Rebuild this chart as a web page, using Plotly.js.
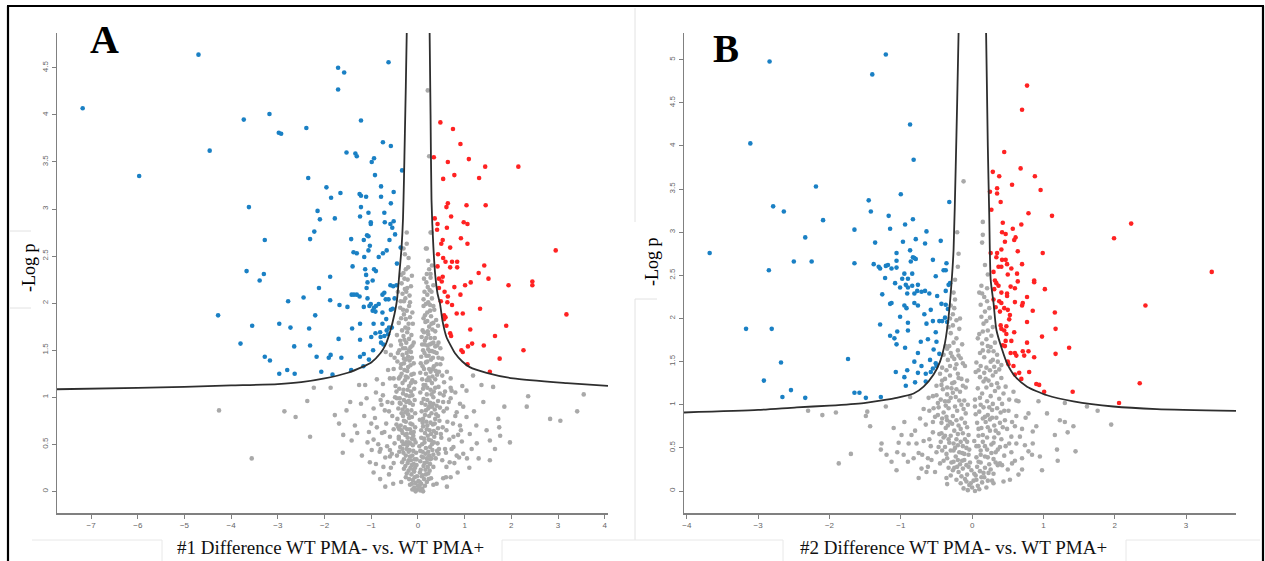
<!DOCTYPE html>
<html><head><meta charset="utf-8">
<script src="https://cdn.plot.ly/plotly-3.0.1.min.js"></script>
<style>html,body{margin:0;padding:0;background:#fff;}#chart{width:1265px;height:561px;}</style>
</head><body><div id="chart"></div>
<script>
// ---------- Panel A data ----------
const curveA_left = [[-7.73,1.085],[-6,1.10],[-5,1.11],[-4,1.125],[-3,1.14],[-2.5,1.16],[-2,1.2],[-1.5,1.26],[-1.2,1.32],[-1,1.37],[-0.8,1.47],[-0.7,1.55],[-0.6,1.69],[-0.5,1.89],[-0.45,2.03],[-0.4,2.3],[-0.35,2.6],[-0.32,2.9],[-0.3,3.3],[-0.28,3.8],[-0.26,4.3],[-0.24,4.87]];
const curveA_right = [[0.25,4.87],[0.27,4.0],[0.29,3.1],[0.33,2.6],[0.37,2.3],[0.42,2.1],[0.47,2.0],[0.53,1.8],[0.61,1.64],[0.7,1.55],[0.79,1.47],[0.95,1.38],[1.11,1.32],[1.47,1.26],[2.04,1.2],[3.19,1.15],[4.07,1.12]];
const blueA = [[-0.63,4.56],[-1.71,4.50],[-1.58,4.45],[-1.71,4.27],[-3.18,4.01],[-3.73,3.95],[-1.22,3.94],[-2.98,3.81],[-2.93,3.80],[-2.39,3.86],[-0.75,3.71],[-0.58,3.67],[-1.53,3.60],[-1.34,3.59],[-1.31,3.56],[-0.94,3.54],[-0.99,3.50],[-0.34,3.41],[-0.92,3.36],[-2.35,3.33],[-1.96,3.23],[-0.79,3.24],[-1.66,3.17],[-1.86,3.12],[-1.25,3.16],[-1.22,3.14],[-1.11,3.13],[-0.79,3.13],[-0.52,3.18],[-3.62,3.02],[-1.22,3.02],[-0.58,3.06],[-2.15,2.98],[-1.06,2.96],[-0.72,2.96],[-2.10,2.89],[-1.78,2.90],[-1.24,2.92],[-1.01,2.86],[-1.01,2.84],[-0.71,2.86],[-0.59,2.84],[-0.52,2.87],[-0.55,2.80],[-2.22,2.76],[-2.31,2.68],[-0.49,2.73],[-3.28,2.67],[-1.43,2.68],[-1.16,2.67],[-1.09,2.72],[-1.06,2.71],[-0.61,2.67],[-1.03,2.61],[-0.37,2.59],[-1.38,2.54],[-1.31,2.53],[-1.06,2.56],[-0.75,2.53],[-0.67,2.56],[-1.15,2.49],[-0.84,2.49],[-0.45,2.42],[-1.40,2.39],[-1.13,2.36],[-0.94,2.36],[-0.90,2.34],[-3.67,2.34],[-3.30,2.31],[-3.39,2.24],[-1.11,2.30],[-0.97,2.24],[-1.88,2.28],[-1.08,2.22],[-1.10,2.16],[-2.12,2.16],[-0.59,2.19],[-0.53,2.18],[-0.46,2.19],[-1.42,2.09],[-1.37,2.09],[-1.31,2.09],[-1.25,2.07],[-1.08,2.05],[-0.76,2.09],[-0.72,2.11],[-0.69,2.04],[-0.63,2.04],[-0.50,2.05],[-2.45,2.06],[-2.78,2.02],[-1.88,2.03],[-1.68,1.98],[-1.51,1.96],[-1.16,1.96],[-1.04,1.97],[-1.01,1.99],[-0.94,1.95],[-0.90,1.97],[-0.84,1.99],[-0.97,1.92],[-0.91,1.91],[-0.76,1.90],[-0.58,1.93],[-0.54,1.94],[-0.68,1.83],[-2.20,1.87],[-3.55,1.76],[-2.97,1.78],[-2.73,1.74],[-2.33,1.73],[-1.41,1.73],[-1.24,1.78],[-0.95,1.78],[-0.76,1.78],[-0.62,1.74],[-0.91,1.68],[-0.81,1.69],[-0.67,1.71],[-0.56,1.74],[-1.00,1.64],[-0.80,1.64],[-0.72,1.65],[-0.64,1.67],[-3.80,1.57],[-1.70,1.62],[-1.24,1.61],[-2.31,1.55],[-0.79,1.58],[-0.74,1.56],[-2.65,1.54],[-0.96,1.50],[-3.28,1.43],[-3.17,1.39],[-2.17,1.43],[-1.91,1.42],[-1.87,1.45],[-1.64,1.42],[-1.24,1.43],[-1.16,1.46],[-1.05,1.40],[-2.97,1.25],[-2.80,1.29],[-2.64,1.25],[-2.07,1.27],[-1.83,1.24],[-1.43,1.29],[-1.17,1.33],[-4.70,4.64],[-7.18,4.07],[-4.46,3.62],[-5.97,3.35],[-4.28,1.87]];
const redA = [[0.48,3.92],[0.75,3.85],[0.91,3.69],[0.34,3.55],[0.64,3.50],[1.09,3.53],[1.44,3.45],[2.15,3.45],[0.54,3.32],[0.78,3.36],[1.31,3.33],[0.64,3.06],[0.61,3.02],[1.04,3.04],[1.45,3.04],[0.71,2.92],[0.36,2.90],[0.98,2.86],[1.06,2.84],[0.42,2.84],[0.62,2.80],[0.41,2.78],[0.92,2.69],[0.53,2.67],[0.50,2.63],[1.06,2.63],[0.69,2.59],[2.95,2.56],[0.43,2.52],[0.54,2.48],[0.59,2.44],[0.73,2.44],[0.84,2.44],[1.42,2.40],[0.42,2.39],[0.69,2.38],[0.84,2.38],[1.30,2.32],[0.53,2.28],[0.45,2.26],[1.51,2.26],[0.51,2.23],[1.13,2.22],[1.94,2.19],[2.45,2.23],[2.45,2.19],[1.01,2.19],[0.78,2.17],[0.45,2.16],[0.57,2.12],[0.91,2.09],[0.64,2.07],[0.49,2.02],[0.63,2.01],[0.73,1.98],[1.33,1.94],[0.83,1.89],[0.96,1.89],[3.18,1.88],[0.56,1.87],[0.59,1.85],[0.56,1.83],[0.61,1.76],[1.12,1.72],[1.89,1.76],[0.69,1.68],[0.71,1.65],[1.65,1.65],[1.16,1.57],[1.41,1.55],[1.07,1.54],[0.93,1.50],[0.96,1.48],[2.26,1.50],[1.75,1.41],[1.06,1.35],[1.54,1.27]];
const greyA = [[0.21,4.26],[0.24,3.56],[-0.24,2.63],[-0.31,2.58],[0.19,2.58],[0.27,2.75],[-0.24,2.75],[0.29,2.75],[0.17,2.58],[-0.26,2.36],[-0.31,2.32],[-0.13,2.29],[0.19,2.31],[0.27,2.31],[-0.2,2.48],[0.22,2.45],[-0.28,2.52],[0.3,2.4],
[-0.35,2.21],[-0.28,2.15],[-0.22,2.25],[-0.18,2.08],[-0.3,2.02],[-0.25,2.12],[-0.15,2.18],[-0.33,2.1],[0.18,2.22],[0.25,2.14],[0.3,2.05],[0.22,2.01],[0.14,2.12],[0.33,2.19],[0.27,2.27],[0.12,2.04],
[-0.38,1.95],[-0.3,1.88],[-0.24,1.92],[-0.17,1.85],[-0.41,1.79],[-0.27,1.74],[-0.2,1.78],[-0.34,1.71],[-0.12,1.9],[0.12,1.97],[0.2,1.9],[0.28,1.86],[0.35,1.93],[0.16,1.8],[0.24,1.75],[0.31,1.72],[0.39,1.82],[0.1,1.71],[0.43,1.76],
[-0.45,1.66],[-0.38,1.6],[-0.31,1.65],[-0.25,1.58],[-0.19,1.62],[-0.12,1.55],[-0.4,1.5],[-0.33,1.45],[-0.27,1.52],[-0.21,1.43],[-0.15,1.48],[-0.5,1.42],[-0.58,1.55],[0.08,1.64],[0.15,1.6],[0.22,1.67],[0.29,1.57],[0.36,1.63],[0.44,1.58],[0.11,1.5],[0.18,1.44],[0.25,1.49],[0.32,1.42],[0.4,1.47],[0.48,1.52],[0.52,1.41],[0.07,1.43],[0.2,1.55],
[-0.44,1.38],[-0.37,1.31],[-0.3,1.36],[-0.23,1.28],[-0.16,1.34],[-0.09,1.25],[-0.41,1.2],[-0.33,1.15],[-0.26,1.22],[-0.19,1.12],[-0.12,1.18],[-0.52,1.3],[-0.6,1.2],[-0.75,1.14],[-0.88,1.19],[-0.48,1.12],[0.06,1.36],[0.13,1.3],[0.2,1.38],[0.27,1.27],[0.34,1.33],[0.41,1.24],[0.48,1.35],[0.09,1.19],[0.16,1.13],[0.23,1.21],[0.3,1.15],[0.37,1.19],[0.44,1.11],[0.62,1.27],[0.7,1.2],[0.05,1.26],
[-0.46,1.06],[-0.39,0.99],[-0.32,1.04],[-0.25,0.95],[-0.18,1.01],[-0.11,0.92],[-0.42,0.88],[-0.35,0.83],[-0.28,0.9],[-0.21,0.82],[-0.14,0.86],[-0.07,0.97],[-0.55,0.94],[-0.62,0.85],[-0.8,0.97],[-0.95,0.88],[0.05,1.05],[0.12,0.98],[0.19,1.03],[0.26,0.94],[0.33,1.0],[0.4,0.91],[0.47,1.04],[0.08,0.85],[0.15,0.81],[0.22,0.88],[0.29,0.83],[0.36,0.87],[0.43,0.8],[0.54,0.95],[0.62,0.88],[0.7,0.99],[0.83,0.84],[0.9,0.93],[0.58,1.06],
[-0.44,0.77],[-0.37,0.7],[-0.3,0.75],[-0.23,0.66],[-0.16,0.72],[-0.09,0.63],[-0.41,0.58],[-0.34,0.53],[-0.27,0.6],[-0.2,0.52],[-0.13,0.56],[-0.06,0.68],[-0.52,0.66],[-0.6,0.58],[-0.68,0.72],[-0.77,0.62],[-0.95,0.55],[-1.05,0.63],[-0.5,0.51],[0.04,0.76],[0.11,0.69],[0.18,0.74],[0.25,0.65],[0.32,0.71],[0.39,0.62],[0.46,0.75],[0.07,0.57],[0.14,0.52],[0.21,0.59],[0.28,0.54],[0.35,0.58],[0.42,0.51],[0.53,0.68],[0.67,0.55],[0.75,0.72],[0.86,0.6],[0.94,0.53],[0.5,0.57],
[-0.38,0.47],[-0.31,0.41],[-0.24,0.45],[-0.17,0.37],[-0.1,0.43],[-0.03,0.34],[-0.34,0.31],[-0.27,0.27],[-0.2,0.33],[-0.13,0.28],[-0.06,0.25],[-0.45,0.38],[-0.52,0.3],[-0.6,0.44],[-0.7,0.36],[-0.82,0.42],[-0.9,0.29],[0.03,0.48],[0.1,0.42],[0.17,0.46],[0.24,0.38],[0.31,0.44],[0.38,0.35],[0.05,0.32],[0.12,0.27],[0.19,0.35],[0.26,0.29],[0.33,0.26],[0.45,0.45],[0.52,0.33],[0.6,0.41],[0.68,0.31],[0.76,0.47],[0.88,0.36],
[-0.2,0.22],[-0.14,0.18],[-0.08,0.21],[-0.02,0.16],[0.04,0.2],[0.1,0.17],[0.16,0.23],[0.22,0.19],[-0.26,0.15],[-0.11,0.12],[-0.05,0.09],[0.01,0.11],[0.07,0.08],[0.13,0.13],[0.19,0.1],[-0.17,0.07],[-0.08,0.04],[-0.02,0.02],[0.03,0.05],[0.09,0.03],[0.15,0.06],[-0.3,0.24],[0.28,0.14],[-0.36,0.1],[0.33,0.07],[-0.05,0.0],[0.05,0.01],[0.0,0.06],[-0.12,0.02],[0.11,0.0],
[-0.21,2.38],[-0.27,2.05],[-0.19,1.97],[-0.36,1.84],[-0.23,1.69],[-0.29,1.61],[-0.16,1.53],[-0.36,1.56],[-0.24,1.47],[-0.3,1.41],[-0.18,1.39],[-0.35,1.25],[-0.28,1.18],[-0.21,1.32],[-0.14,1.24],[-0.4,1.09],[-0.22,1.08],[-0.15,1.06],[-0.3,0.97],[-0.37,0.93],[-0.23,0.86],[-0.17,0.94],[-0.32,0.8],[-0.26,0.74],[-0.19,0.78],[-0.12,0.71],[-0.35,0.65],[-0.28,0.68],[-0.22,0.57],[-0.15,0.62],[-0.08,0.55],[-0.31,0.5],[-0.25,0.52],[-0.18,0.44],[-0.11,0.49],[-0.04,0.41],[-0.22,0.3],[-0.15,0.33],[-0.09,0.29],[-0.16,0.25],[-0.1,0.23],
[0.24,2.36],[0.2,2.09],[0.26,1.98],[0.15,1.87],[0.33,1.79],[0.21,1.7],[0.27,1.63],[0.14,1.56],[0.37,1.54],[0.23,1.44],[0.3,1.49],[0.17,1.37],[0.24,1.3],[0.38,1.28],[0.31,1.22],[0.19,1.18],[0.11,1.09],[0.27,1.08],[0.34,1.06],[0.2,0.97],[0.16,0.92],[0.3,0.9],[0.24,0.8],[0.37,0.77],[0.11,0.77],[0.2,0.7],[0.27,0.73],[0.34,0.64],[0.15,0.62],[0.23,0.55],[0.3,0.5],[0.09,0.5],[0.16,0.4],[0.22,0.42],[0.29,0.35],[0.08,0.37],[0.14,0.3],[0.21,0.26],[0.06,0.23],[0.25,0.22],
[-2.23,1.10],[-1.87,1.10],[-2.37,0.96],[-2.31,0.58],[-1.78,0.81],[-1.61,0.41],[-1.69,0.72],[-1.53,0.86],[-1.42,0.54],[-1.35,0.70],[-1.26,1.13],[-1.13,1.13],[-1.10,0.99],[-1.03,0.31],[-0.99,0.44],[-0.81,0.13],[-0.88,0.68],[-0.74,0.26],[-0.71,0.86],[-0.64,1.29],[-0.60,0.37],[-0.53,0.08],[-0.69,1.48],[-0.58,1.45],[-0.49,1.00],[-0.42,0.68],[0.56,1.16],[0.72,1.07],[1.04,1.07],[1.18,1.23],[1.36,1.13],[1.61,1.11],[0.97,0.90],[1.04,0.79],[1.11,0.61],[1.26,0.51],[1.47,0.65],[1.54,0.54],[1.54,0.33],[1.72,0.77],[1.74,0.68],[1.76,0.59],[1.97,0.52],[2.33,0.90],[2.36,1.01],[2.83,0.77],[3.05,0.75],[3.41,0.85],[3.55,1.03],[0.97,0.40],[0.83,0.38],[0.61,0.26],[0.54,0.14],[0.40,0.08],[0.44,0.40],[0.61,0.65],[0.76,0.58],[-4.26,0.86],[-3.56,0.35],[-2.86,0.85],[-2.62,0.79],
[-1.2,0.38],[-1.3,0.62],[-1.15,0.8],[-0.95,0.2],[-0.85,0.5],[-0.9,1.05],[-1.45,0.95],[-1.6,0.6],[-1.0,0.72],[-0.78,0.92],[0.78,0.3],[0.9,0.7],[1.2,0.85],[1.3,0.35],[1.15,0.45],[0.95,1.12],[1.4,0.95],[1.65,0.45],[1.85,0.9],[0.7,0.15],[0.85,0.2],[-0.7,0.05],[-0.62,0.18],[0.62,0.05],[1.1,0.25]];
const greyA_extra = [[-0.43,2.12],[-0.37,2.02],[-0.32,1.93],[-0.26,1.83],[-0.21,1.73],[-0.14,1.66],[-0.09,1.58],[-0.43,1.47],[-0.36,1.35],[-0.29,1.29],[-0.22,1.21],[-0.15,1.15],[-0.08,1.09],[-0.45,0.99],[-0.39,0.94],[-0.33,0.87],[-0.27,0.84],[-0.2,0.96],[-0.13,0.79],[-0.06,0.83],[-0.46,0.71],[-0.4,0.66],[-0.33,0.62],[-0.24,0.61],[-0.17,0.66],[-0.1,0.59],[-0.05,0.52],[-0.4,0.42],[-0.33,0.45],[-0.26,0.38],[-0.2,0.42],[-0.12,0.38],[-0.07,0.34],[-0.3,0.34],[-0.24,0.19],[-0.19,0.13],[-0.13,0.08],[-0.07,0.15],[-0.03,0.28],[-0.32,1.52],[-0.26,1.4],[-0.19,1.5],[-0.13,1.42],[-0.38,1.22],[-0.31,1.08],[-0.25,1.02],[-0.12,1.02],[-0.06,1.16],[-0.41,0.56],[-0.23,0.49],[-0.16,0.51],[-0.36,2.3],[-0.29,2.26],[-0.23,2.16],[-0.17,2.01],[-0.11,1.78],[-0.09,1.36],
[0.13,2.26],[0.21,2.17],[0.29,2.12],[0.17,1.99],[0.26,1.92],[0.33,1.97],[0.12,1.84],[0.2,1.81],[0.29,1.78],[0.37,1.7],[0.13,1.69],[0.18,1.63],[0.25,1.56],[0.33,1.58],[0.41,1.55],[0.09,1.56],[0.14,1.47],[0.22,1.51],[0.28,1.4],[0.35,1.48],[0.44,1.42],[0.1,1.33],[0.17,1.25],[0.25,1.18],[0.32,1.3],[0.4,1.35],[0.45,1.27],[0.12,1.13],[0.2,1.1],[0.29,1.03],[0.37,1.1],[0.43,0.96],[0.08,0.94],[0.17,0.86],[0.24,0.9],[0.33,0.93],[0.39,0.82],[0.47,0.89],[0.1,0.73],[0.19,0.66],[0.28,0.61],[0.36,0.72],[0.43,0.67],[0.49,0.61],[0.07,0.65],[0.13,0.56],[0.26,0.47],[0.34,0.52],[0.41,0.43],[0.05,0.43],[0.19,0.31],[0.26,0.34],[0.33,0.39],[0.11,0.36],[0.17,0.18],[0.23,0.13],[0.08,0.16],[0.04,0.1],
[-0.55,0.8],[-0.65,0.95],[-0.72,0.63],[-0.8,0.45],[-0.58,0.25],[-0.66,0.48],[-0.92,0.78],[-1.08,0.52],[-1.22,0.93],[-0.75,1.02],[-0.52,1.2],[-0.56,0.4],[0.55,0.85],[0.63,0.74],[0.72,0.45],[0.8,0.8],[0.58,0.45],[0.66,0.95],[0.92,0.65],[1.05,0.35],[0.7,1.1],[0.52,1.23],[0.55,1.02],[0.8,1.05],[1.25,0.7],[0.6,0.15]];

// ---------- Panel B data ----------
const curveB_left = [[-4.04,0.91],[-3,0.94],[-2.46,0.97],[-2,0.99],[-1.52,1.02],[-1.2,1.06],[-1.06,1.08],[-0.82,1.13],[-0.68,1.21],[-0.54,1.35],[-0.45,1.5],[-0.38,1.72],[-0.33,2.02],[-0.29,2.4],[-0.26,2.8],[-0.23,3.76],[-0.21,4.5],[-0.19,5.31]];
const curveB_right = [[0.196,5.31],[0.22,4.0],[0.24,3.2],[0.26,2.45],[0.3,2.18],[0.34,1.87],[0.42,1.64],[0.49,1.48],[0.6,1.33],[0.77,1.21],[1.05,1.11],[1.42,1.04],[1.98,0.98],[2.59,0.95],[3.7,0.93]];
const blueB = [[-0.82,3.84],[-2.19,3.53],[-1.00,3.44],[-0.32,3.35],[-2.79,3.30],[-2.64,3.24],[-1.45,3.37],[-1.42,3.24],[-2.09,3.14],[-1.17,3.19],[-0.83,3.15],[-0.94,3.09],[-1.65,3.03],[-1.15,3.04],[-0.64,3.01],[-2.34,2.94],[-1.36,2.88],[-0.97,2.89],[-0.79,2.92],[-0.66,2.87],[-0.44,2.90],[-3.68,2.76],[-1.06,2.76],[-0.87,2.79],[-0.83,2.71],[-0.81,2.70],[-0.79,2.69],[-0.86,2.66],[-2.50,2.66],[-2.25,2.66],[-1.65,2.64],[-1.38,2.63],[-1.31,2.60],[-1.29,2.58],[-1.21,2.61],[-1.18,2.62],[-1.13,2.58],[-1.06,2.67],[-1.06,2.59],[-0.55,2.68],[-0.36,2.64],[-2.85,2.56],[-0.95,2.52],[-0.84,2.52],[-0.40,2.56],[-0.37,2.56],[-1.22,2.47],[-0.98,2.46],[-0.90,2.46],[-0.51,2.49],[-1.08,2.41],[-0.93,2.39],[-0.76,2.39],[-1.01,2.36],[-0.90,2.36],[-0.84,2.38],[-0.33,2.39],[-0.31,2.41],[-0.77,2.32],[-0.71,2.31],[-0.66,2.32],[-0.60,2.29],[-0.37,2.32],[-1.26,2.28],[-0.91,2.29],[-0.81,2.29],[-0.49,2.26],[-0.81,2.18],[-0.76,2.15],[-1.15,2.17],[-1.13,2.18],[-0.95,2.15],[-0.92,2.12],[-0.43,2.17],[-0.37,2.16],[-0.34,2.11],[-0.58,2.10],[-0.67,2.05],[-1.01,2.02],[-0.55,1.97],[-0.46,1.97],[-0.42,1.97],[-0.38,2.01],[-1.29,1.93],[-0.90,1.95],[-0.64,1.94],[-0.35,1.96],[-3.17,1.88],[-2.81,1.88],[-1.05,1.85],[-0.90,1.86],[-0.51,1.84],[-1.15,1.80],[-1.09,1.77],[-0.72,1.73],[-0.62,1.76],[-0.50,1.73],[-1.06,1.70],[-0.94,1.66],[-0.54,1.64],[-0.46,1.59],[-0.76,1.60],[-1.74,1.53],[-0.59,1.52],[-2.68,1.49],[-0.81,1.50],[-0.51,1.48],[-0.91,1.40],[-1.07,1.38],[-0.71,1.45],[-0.76,1.37],[-0.65,1.36],[-0.58,1.38],[-0.55,1.42],[-0.50,1.45],[-0.95,1.32],[-0.80,1.26],[-0.65,1.27],[-2.92,1.28],[-0.93,1.22],[-2.54,1.17],[-2.66,1.09],[-2.34,1.08],[-1.65,1.14],[-1.58,1.14],[-1.49,1.08],[-1.28,1.09],[-2.84,4.98],[-1.21,5.06],[-1.40,4.83],[-0.87,4.25],[-3.11,4.03]];
const redB = [[0.77,4.70],[0.70,4.42],[0.45,3.93],[0.68,3.74],[0.29,3.70],[0.38,3.65],[0.88,3.65],[0.56,3.55],[0.35,3.51],[0.35,3.45],[0.25,3.47],[0.96,3.49],[0.40,3.35],[0.27,3.26],[0.79,3.22],[1.12,3.19],[2.23,3.10],[0.43,3.11],[0.69,3.09],[0.57,3.04],[0.42,3.00],[0.47,2.98],[0.61,2.94],[0.59,2.91],[1.99,2.93],[0.46,2.89],[0.41,2.80],[0.64,2.78],[0.99,2.76],[0.26,2.76],[0.35,2.76],[0.34,2.71],[0.42,2.68],[0.47,2.68],[0.49,2.63],[0.70,2.63],[0.37,2.60],[0.41,2.60],[0.30,2.54],[0.55,2.58],[0.50,2.51],[0.63,2.52],[3.36,2.54],[0.32,2.44],[0.34,2.41],[0.64,2.43],[0.87,2.44],[0.87,2.42],[0.37,2.38],[0.54,2.37],[0.60,2.35],[0.31,2.34],[1.02,2.34],[0.41,2.30],[0.49,2.29],[0.49,2.26],[0.77,2.25],[0.30,2.22],[0.38,2.20],[0.41,2.18],[0.60,2.19],[0.71,2.18],[0.70,2.15],[0.33,2.13],[0.45,2.12],[0.50,2.10],[2.43,2.15],[0.39,2.08],[0.85,2.09],[1.16,2.07],[0.53,2.04],[0.52,1.99],[0.77,1.96],[0.40,1.92],[0.48,1.91],[0.41,1.88],[1.17,1.88],[0.45,1.86],[0.48,1.82],[0.59,1.84],[0.98,1.79],[0.47,1.74],[0.55,1.74],[0.77,1.72],[0.43,1.69],[0.46,1.68],[1.36,1.66],[0.71,1.62],[0.79,1.62],[0.54,1.60],[0.60,1.60],[1.17,1.59],[0.62,1.57],[0.73,1.57],[0.87,1.55],[0.50,1.50],[0.58,1.45],[0.51,1.47],[0.80,1.38],[0.66,1.37],[0.60,1.35],[0.69,1.30],[0.90,1.24],[0.94,1.23],[2.35,1.25],[1.01,1.15],[1.41,1.15],[2.06,1.02]];
const greyB = [[-0.12,3.59],[0.15,3.12],[-0.21,3.0],[0.15,2.97],[0.14,2.88],[-0.19,2.75],[0.22,2.51],[0.13,2.38],[0.14,2.29],[0.21,2.2],[-0.24,2.45],[-0.26,2.3],[0.18,2.62],[-0.2,2.6],
[-0.3,2.15],[-0.27,2.05],[-0.22,1.98],[-0.33,1.9],[-0.3,1.83],[-0.18,1.88],[-0.25,2.12],[0.12,2.16],[0.18,2.08],[0.25,2.01],[0.16,1.94],[0.22,1.86],[0.29,1.9],[0.1,1.82],[0.24,2.12],
[-0.37,1.68],[-0.32,1.68],[-0.26,1.72],[-0.2,1.63],[-0.14,1.7],[-0.4,1.58],[-0.34,1.52],[-0.28,1.56],[-0.22,1.47],[-0.16,1.54],[-0.1,1.45],[-0.42,1.43],[0.08,1.77],[0.14,1.71],[0.2,1.76],[0.26,1.67],[0.32,1.72],[0.11,1.6],[0.17,1.55],[0.23,1.62],[0.29,1.52],[0.35,1.58],[0.41,1.46],[0.06,1.49],[0.2,1.43],[0.38,1.41],
[-0.45,1.36],[-0.38,1.3],[-0.31,1.34],[-0.25,1.26],[-0.19,1.31],[-0.13,1.22],[-0.07,1.28],[-0.41,1.18],[-0.35,1.12],[-0.29,1.19],[-0.23,1.09],[-0.17,1.15],[-0.11,1.05],[-0.5,1.22],[-0.55,1.1],[-0.48,1.02],[0.05,1.38],[0.11,1.32],[0.17,1.37],[0.23,1.28],[0.29,1.34],[0.35,1.25],[0.41,1.31],[0.47,1.21],[0.08,1.19],[0.14,1.13],[0.2,1.2],[0.26,1.1],[0.32,1.16],[0.38,1.07],[0.44,1.13],[0.52,1.06],[0.58,1.15],[0.04,1.06],
[-0.47,0.97],[-0.4,0.91],[-0.33,0.96],[-0.27,0.87],[-0.21,0.93],[-0.15,0.84],[-0.09,0.9],[-0.43,0.79],[-0.37,0.73],[-0.31,0.8],[-0.25,0.7],[-0.19,0.76],[-0.13,0.67],[-0.07,0.74],[-0.52,0.86],[-0.6,0.93],[-0.65,0.77],[-0.73,0.84],[-0.55,0.68],[-0.8,0.7],[0.04,0.98],[0.1,0.92],[0.16,0.97],[0.22,0.88],[0.28,0.94],[0.34,0.85],[0.4,0.91],[0.46,0.82],[0.07,0.79],[0.13,0.73],[0.19,0.8],[0.25,0.7],[0.31,0.76],[0.37,0.67],[0.43,0.74],[0.51,0.93],[0.56,0.8],[0.62,0.87],[0.7,0.72],[0.85,0.69],
[-0.44,0.57],[-0.38,0.51],[-0.32,0.56],[-0.26,0.47],[-0.2,0.53],[-0.14,0.44],[-0.08,0.5],[-0.35,0.38],[-0.29,0.33],[-0.23,0.4],[-0.17,0.31],[-0.11,0.36],[-0.05,0.42],[-0.5,0.45],[-0.58,0.52],[-0.62,0.38],[-0.68,0.58],[-0.45,0.32],[0.03,0.58],[0.09,0.52],[0.15,0.57],[0.21,0.48],[0.27,0.54],[0.33,0.45],[0.39,0.51],[0.06,0.39],[0.12,0.33],[0.18,0.4],[0.24,0.31],[0.3,0.37],[0.45,0.41],[0.52,0.55],[0.6,0.35],[0.36,0.3],
[-0.25,0.27],[-0.19,0.22],[-0.13,0.26],[-0.07,0.19],[-0.01,0.24],[0.05,0.18],[0.11,0.23],[0.17,0.16],[0.23,0.21],[-0.22,0.13],[-0.16,0.09],[-0.1,0.14],[-0.04,0.07],[0.02,0.12],[0.08,0.06],[0.14,0.1],[0.2,0.04],[-0.12,0.03],[-0.06,0.01],[0.0,0.04],[0.04,0.0],[-0.02,0.09],[0.1,0.02],[-0.3,0.18],[0.28,0.12],[-0.35,0.08],
[-0.3,1.6],[-0.24,1.42],[-0.36,1.4],[-0.2,1.36],[-0.27,1.14],[-0.33,1.04],[-0.15,1.0],[-0.24,0.98],[-0.36,0.86],[-0.3,0.64],[-0.22,0.6],[-0.16,0.57],[-0.1,0.6],[-0.4,0.62],[-0.27,0.24],[-0.2,0.36],[-0.08,0.3],[-0.03,0.33],[-0.15,0.17],[-0.08,0.11],
[0.12,1.45],[0.25,1.4],[0.31,1.44],[0.16,1.27],[0.21,1.04],[0.29,1.01],[0.12,1.0],[0.18,0.86],[0.25,0.83],[0.31,0.62],[0.15,0.65],[0.21,0.62],[0.09,0.64],[0.27,0.44],[0.18,0.27],[0.12,0.47],[0.07,0.28],[0.03,0.2],[0.13,0.16],[0.06,0.13],
[-2.30,0.93],[-2.10,0.88],[-1.91,0.91],[-1.87,0.32],[-1.70,0.43],[-1.47,0.92],[-1.49,0.87],[-1.43,0.75],[-1.21,0.98],[-1.10,0.73],[-1.27,0.55],[-1.28,0.48],[-1.20,0.42],[-1.13,0.34],[-1.06,0.24],[-1.03,0.56],[-0.99,0.65],[-0.89,0.55],[-0.85,0.65],[-0.96,0.42],[-0.90,0.34],[-0.75,0.44],[-0.71,0.26],[-0.64,0.22],[-0.57,0.36],[-0.52,0.22],[-0.47,0.51],[-0.87,1.09],[-0.61,1.08],[-0.54,0.96],[-0.50,1.11],[-0.43,1.23],[-0.38,1.04],[-0.35,0.82],[-0.43,0.67],[-0.36,0.15],[0.93,1.04],[1.30,1.02],[1.61,0.98],[1.76,0.93],[1.95,0.77],[1.23,0.82],[1.30,0.80],[1.42,0.75],[1.34,0.68],[1.16,0.65],[1.19,0.48],[1.45,0.46],[1.20,0.35],[0.95,0.40],[0.98,0.24],[0.79,0.46],[0.74,0.53],[0.67,0.63],[0.55,0.63],[0.60,0.75],[0.79,0.90],[0.65,1.04],[0.84,0.42],[0.65,0.19],[0.53,0.13],[0.44,0.11],[0.30,0.09],[0.56,0.32],[0.39,0.32]];
const greyB_extra = [[-0.42,1.28],[-0.35,1.2],[-0.28,1.25],[-0.22,1.18],[-0.15,1.3],[-0.09,1.2],[-0.44,1.06],[-0.37,0.99],[-0.3,1.08],[-0.18,1.05],[-0.12,0.95],[-0.06,1.0],[-0.48,0.88],[-0.42,0.84],[-0.34,0.76],[-0.28,0.78],[-0.22,0.82],[-0.16,0.72],[-0.1,0.79],[-0.05,0.65],[-0.46,0.66],[-0.38,0.64],[-0.33,0.6],[-0.26,0.55],[-0.2,0.66],[-0.13,0.52],[-0.07,0.57],[-0.42,0.47],[-0.36,0.43],[-0.3,0.47],[-0.24,0.5],[-0.18,0.45],[-0.11,0.43],[-0.04,0.48],[-0.4,0.35],[-0.33,0.27],[-0.26,0.34],[-0.21,0.28],[-0.14,0.35],[-0.05,0.28],[-0.31,1.45],[-0.25,1.53],[-0.19,1.57],[-0.13,1.48],[-0.35,1.65],[-0.22,1.77],[-0.27,1.92],[-0.24,2.22],[-0.31,2.0],[-0.17,2.0],
[0.1,2.3],[0.17,2.25],[0.21,2.35],[0.13,2.02],[0.2,1.97],[0.27,1.8],[0.15,1.85],[0.22,1.68],[0.3,1.62],[0.36,1.5],[0.15,1.63],[0.26,1.5],[0.33,1.38],[0.09,1.4],[0.19,1.3],[0.27,1.23],[0.37,1.2],[0.42,1.01],[0.11,1.08],[0.24,0.97],[0.35,0.96],[0.45,0.93],[0.05,0.89],[0.15,0.84],[0.28,0.85],[0.39,0.79],[0.49,0.72],[0.09,0.72],[0.22,0.74],[0.33,0.7],[0.41,0.6],[0.06,0.52],[0.18,0.52],[0.3,0.56],[0.36,0.48],[0.47,0.52],[0.12,0.42],[0.22,0.39],[0.33,0.33],[0.42,0.3],[0.09,0.34],[0.26,0.25],[0.16,0.21],[0.22,0.12],[0.3,0.2],
[-0.6,0.6],[-0.7,0.42],[-0.78,0.55],[-0.68,0.95],[-0.62,0.28],[-0.55,0.8],[-0.82,0.38],[-0.95,0.8],[-1.05,0.45],[-0.75,0.15],[0.55,0.45],[0.62,0.55],[0.7,0.38],[0.75,0.85],[0.85,0.55],[0.62,1.05],[0.9,0.75],[0.5,0.25],[1.05,0.9],[0.7,0.25]];

const ticksA_x = [-7,-6,-5,-4,-3,-2,-1,0,1,2,3,4];
const ticksA_y = [0,0.5,1,1.5,2,2.5,3,3.5,4,4.5];
const ticksB_x = [-4,-3,-2,-1,0,1,2,3];
const ticksB_y = [0,0.5,1,1.5,2,2.5,3,3.5,4,4.5,5];
const xTitleA = "#1 Difference WT PMA- vs. WT PMA+";
const xTitleB = "#2 Difference WT PMA- vs. WT PMA+";
const yTitle = "-Log p";

// ---------- build ----------
const W = 1265, H = 561;
const px = v => v / W, py = v => 1 - v / H;
const xs = a => a.map(p => p[0]);
const ys = a => a.map(p => p[1]);
const GREY = '#a9a9a9', BLUE = '#1a80c4', RED = '#ff2222', CURVE = '#2e2e2e';

function pts(a, color, xa, ya) {
  return {type:'scatter', mode:'markers', x:xs(a), y:ys(a), xaxis:xa, yaxis:ya,
    marker:{color:color, size:4.6, line:{width:0}}, hoverinfo:'skip', showlegend:false};
}
function crv(a, xa, ya) {
  return {type:'scatter', mode:'lines', x:xs(a), y:ys(a), xaxis:xa, yaxis:ya,
    line:{color:CURVE, width:1.8, shape:'spline', smoothing:0.6}, hoverinfo:'skip', showlegend:false};
}
const traces = [
  pts(greyA.concat(greyA_extra), GREY, 'x', 'y'), pts(blueA, BLUE, 'x', 'y'), pts(redA, RED, 'x', 'y'),
  crv(curveA_left, 'x', 'y'), crv(curveA_right, 'x', 'y'),
  pts(greyB.concat(greyB_extra), GREY, 'x2', 'y2'), pts(blueB, BLUE, 'x2', 'y2'), pts(redB, RED, 'x2', 'y2'),
  crv(curveB_left, 'x2', 'y2'), crv(curveB_right, 'x2', 'y2')
];

const axCommon = {showline:true, linecolor:'#808080', linewidth:1.5, ticks:'outside', ticklen:4,
  tickcolor:'#808080', tickwidth:1, showgrid:false, zeroline:false, fixedrange:true,
  tickfont:{family:'Liberation Sans, Arial, sans-serif', size:8, color:'#666'}};
const yDom = [py(513), py(33)];
const layout = {
  width:W, height:H, margin:{l:0, r:0, t:0, b:0}, paper_bgcolor:'#fff', plot_bgcolor:'#fff',
  showlegend:false,
  xaxis: Object.assign({}, axCommon, {domain:[px(57), px(608)], range:[-7.73, 4.07], tickvals:ticksA_x, anchor:'y'}),
  yaxis: Object.assign({}, axCommon, {domain:yDom, range:[-0.23, 4.87], tickvals:ticksA_y, tickangle:-90, anchor:'x'}),
  xaxis2: Object.assign({}, axCommon, {domain:[px(684), px(1236)], range:[-4.04, 3.70], tickvals:ticksB_x, anchor:'y2'}),
  yaxis2: Object.assign({}, axCommon, {domain:yDom, range:[-0.255, 5.31], tickvals:ticksB_y, tickangle:-90, anchor:'x2'}),
  annotations: [
    {text:'<b>A</b>', x:px(104), y:py(39), xref:'paper', yref:'paper', showarrow:false, xanchor:'center', yanchor:'middle',
      font:{family:'Liberation Serif, serif', size:40, color:'#000'}},
    {text:'<b>B</b>', x:px(725.5), y:py(48), xref:'paper', yref:'paper', showarrow:false, xanchor:'center', yanchor:'middle',
      font:{family:'Liberation Serif, serif', size:39, color:'#000'}},
    {text:yTitle, x:px(29), y:py(268), xref:'paper', yref:'paper', showarrow:false, textangle:-90, xanchor:'center', yanchor:'middle',
      font:{family:'Liberation Serif, serif', size:18, color:'#000'}},
    {text:yTitle, x:px(652), y:py(262), xref:'paper', yref:'paper', showarrow:false, textangle:-90, xanchor:'center', yanchor:'middle',
      font:{family:'Liberation Serif, serif', size:18, color:'#000'}},
    {text:xTitleA, x:px(330), y:py(547), xref:'paper', yref:'paper', showarrow:false, xanchor:'center', yanchor:'middle',
      font:{family:'Liberation Serif, serif', size:19, color:'#111'}},
    {text:xTitleB, x:px(953), y:py(547), xref:'paper', yref:'paper', showarrow:false, xanchor:'center', yanchor:'middle',
      font:{family:'Liberation Serif, serif', size:19, color:'#111'}}
  ],
  shapes: [
    {type:'line', xref:'paper', yref:'paper', x0:px(8), x1:px(8), y0:py(6), y1:py(561), line:{color:'#000', width:2.2}},
    {type:'line', xref:'paper', yref:'paper', x0:px(7), x1:px(1264), y0:py(6), y1:py(6), line:{color:'#000', width:2.2}},
    {type:'line', xref:'paper', yref:'paper', x0:px(1263), x1:px(1263), y0:py(6), y1:py(561), line:{color:'#000', width:2.2}},
    {type:'line', xref:'paper', yref:'paper', x0:px(635), x1:px(635), y0:py(8), y1:py(222), line:{color:'#e2e2e2', width:1}},
    {type:'line', xref:'paper', yref:'paper', x0:px(635), x1:px(635), y0:py(299), y1:py(540), line:{color:'#e2e2e2', width:1}},
    {type:'line', xref:'paper', yref:'paper', x0:px(635), x1:px(657), y0:py(299), y1:py(299), line:{color:'#e2e2e2', width:1}},
    {type:'line', xref:'paper', yref:'paper', x0:px(10), x1:px(31), y0:py(231), y1:py(231), line:{color:'#e2e2e2', width:1}},
    {type:'line', xref:'paper', yref:'paper', x0:px(10), x1:px(31), y0:py(308), y1:py(308), line:{color:'#e2e2e2', width:1}},
    {type:'line', xref:'paper', yref:'paper', x0:px(32), x1:px(162), y0:py(540), y1:py(540), line:{color:'#e8e8e8', width:1}},
    {type:'line', xref:'paper', yref:'paper', x0:px(162), x1:px(162), y0:py(540), y1:py(561), line:{color:'#e8e8e8', width:1}},
    {type:'line', xref:'paper', yref:'paper', x0:px(502), x1:px(502), y0:py(540), y1:py(561), line:{color:'#e8e8e8', width:1}},
    {type:'line', xref:'paper', yref:'paper', x0:px(502), x1:px(657), y0:py(540), y1:py(540), line:{color:'#e8e8e8', width:1}},
    {type:'line', xref:'paper', yref:'paper', x0:px(657), x1:px(783), y0:py(540), y1:py(540), line:{color:'#e8e8e8', width:1}},
    {type:'line', xref:'paper', yref:'paper', x0:px(783), x1:px(783), y0:py(540), y1:py(561), line:{color:'#e8e8e8', width:1}},
    {type:'line', xref:'paper', yref:'paper', x0:px(1126), x1:px(1126), y0:py(540), y1:py(561), line:{color:'#e8e8e8', width:1}},
    {type:'line', xref:'paper', yref:'paper', x0:px(1126), x1:px(1260), y0:py(540), y1:py(540), line:{color:'#e8e8e8', width:1}}
  ]
};
Plotly.newPlot('chart', traces, layout, {displayModeBar:false, staticPlot:true});
</script>
</body></html>
